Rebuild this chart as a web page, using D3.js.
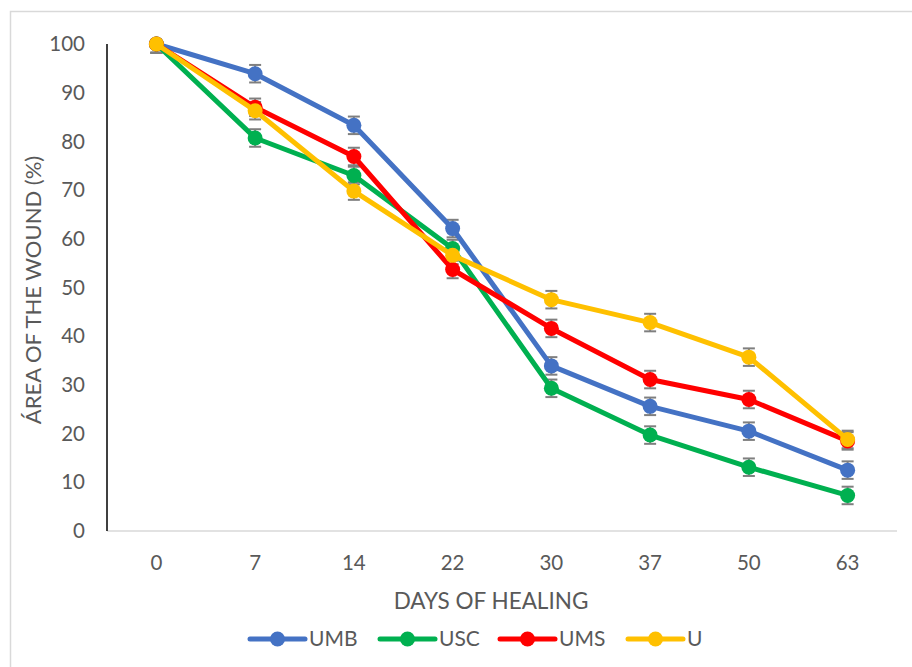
<!DOCTYPE html>
<html lang="en">
<head>
  <meta charset="UTF-8">
  <title>Area of the wound by days of healing</title>
  <script src="https://d3js.org/d3.v7.min.js"></script>
  <style>
    body
    {
      margin: 0;
      background-color: #fff;
    }

    svg
    {
      font-family: Lato, "Open Sans", sans-serif;
    }
  </style>
</head>
<body>
  <svg width="912" height="667"></svg>
  <script>
    // data
    const days = ["0", "7", "14", "22", "30", "37", "50", "63"];
    const seriesNames = ["UMB", "USC", "UMS", "U"];
    const umb = [100, 93.9, 83.3, 62.1, 33.9, 25.6, 20.5, 12.5];
    const usc = [100, 80.7, 73.0, 58.0, 29.3, 19.7, 13.1, 7.3];
    const ums = [100, 87.0, 76.9, 53.7, 41.6, 31.1, 27.0, 18.5];
    const u   = [100, 86.3, 69.8, 56.6, 47.5, 42.8, 35.7, 18.8];
    const errorBar = [1.8, 1.8, 1.8, 1.8, 1.8, 1.8, 1.8, 1.8];
    const yTicks = [0, 10, 20, 30, 40, 50, 60, 70, 80, 90, 100];

    const colors = ["#4472C4", "#00B050", "#FF0000", "#FFC000"];
    const allValues = [umb, usc, ums, u];

    const margin = { left: 107, right: 15, top: 44, bottom: 136 };
    const width = 912;
    const height = 667;

    const svg = d3.select("svg");

    // chart border
    svg.append("rect")
      .attr("x", 10.5)
      .attr("y", 11.5)
      .attr("width", 910)
      .attr("height", 670)
      .attr("fill", "none")
      .attr("stroke", "#d9d9d9")
      .attr("stroke-width", 1.5);

    const x = d3.scalePoint()
      .domain(days)
      .range([margin.left, width - margin.right])
      .padding(0.5);

    const y = d3.scaleLinear()
      .domain([0, 100])
      .range([height - margin.bottom, margin.top]);

    svg.append("defs").append("clipPath")
      .attr("id", "plot-clip")
      .append("rect")
      .attr("x", margin.left)
      .attr("y", margin.top)
      .attr("width", width - margin.right - margin.left)
      .attr("height", y(0) - margin.top);

    // x baseline
    svg.append("line")
      .attr("x1", margin.left)
      .attr("x2", width - margin.right)
      .attr("y1", y(0))
      .attr("y2", y(0))
      .attr("stroke", "#d9d9d9")
      .attr("stroke-width", 1.5);

    // y axis line
    svg.append("line")
      .attr("x1", margin.left)
      .attr("x2", margin.left)
      .attr("y1", y(100))
      .attr("y2", y(0))
      .attr("stroke", "#000")
      .attr("stroke-width", 1.5);

    // y tick labels
    svg.append("g")
      .selectAll("text")
      .data(yTicks)
      .join("text")
      .attr("x", 85)
      .attr("y", d => y(d))
      .attr("dy", "0.35em")
      .attr("text-anchor", "end")
      .attr("fill", "#595959")
      .style("font-size", "20.5px")
      .text(d => d);

    // x tick labels
    svg.append("g")
      .selectAll("text")
      .data(days)
      .join("text")
      .attr("x", d => x(d))
      .attr("y", 563)
      .attr("dy", "0.35em")
      .attr("text-anchor", "middle")
      .attr("fill", "#595959")
      .style("font-size", "20.5px")
      .text(d => d);

    // axis titles
    svg.append("text")
      .attr("x", 491)
      .attr("y", 601)
      .attr("dy", "0.35em")
      .attr("text-anchor", "middle")
      .attr("fill", "#595959")
      .style("font-size", "22.5px")
      .text("DAYS OF HEALING");

    svg.append("text")
      .attr("transform", "translate(33,290) rotate(-90)")
      .attr("dy", "0.35em")
      .attr("text-anchor", "middle")
      .attr("fill", "#595959")
      .style("font-size", "22px")
      .text("ÁREA OF THE WOUND (%)");

    const plot = svg.append("g").attr("clip-path", "url(#plot-clip)");

    const line = d3.line()
      .x((d, i) => x(days[i]))
      .y(d => y(d));

    // error bars first, behind the series
    allValues.forEach((vals) => {
      const g = plot.append("g")
        .attr("stroke", "#7f7f7f")
        .attr("stroke-width", 2);
      vals.forEach((v, i) => {
        const cx = x(days[i]);
        const e = errorBar[i];
        g.append("line")
          .attr("x1", cx).attr("x2", cx)
          .attr("y1", y(v + e)).attr("y2", y(v - e));
        g.append("line")
          .attr("x1", cx - 6).attr("x2", cx + 6)
          .attr("y1", y(v + e)).attr("y2", y(v + e));
        g.append("line")
          .attr("x1", cx - 6).attr("x2", cx + 6)
          .attr("y1", y(v - e)).attr("y2", y(v - e));
      });
    });

    allValues.forEach((vals, k) => {
      svg.append("path")
        .datum(vals)
        .attr("d", line)
        .attr("fill", "none")
        .attr("stroke", colors[k])
        .attr("stroke-width", 5)
        .attr("stroke-linejoin", "round");

      svg.append("g")
        .selectAll("circle")
        .data(vals)
        .join("circle")
        .attr("cx", (d, i) => x(days[i]))
        .attr("cy", d => y(d))
        .attr("r", 7.5)
        .attr("fill", colors[k]);
    });

    // legend
    const legendX = [250, 380, 500, 628];
    const legend = svg.append("g");
    seriesNames.forEach((name, k) => {
      const lx = legendX[k];
      legend.append("line")
        .attr("x1", lx).attr("x2", lx + 55)
        .attr("y1", 639).attr("y2", 639)
        .attr("stroke", colors[k])
        .attr("stroke-width", 5)
        .attr("stroke-linecap", "round");
      legend.append("circle")
        .attr("cx", lx + 27.5)
        .attr("cy", 639)
        .attr("r", 7.5)
        .attr("fill", colors[k]);
      legend.append("text")
        .attr("x", lx + 59)
        .attr("y", 639)
        .attr("dy", "0.35em")
        .attr("fill", "#595959")
        .style("font-size", "21px")
        .text(name);
    });
  </script>
</body>
</html>
